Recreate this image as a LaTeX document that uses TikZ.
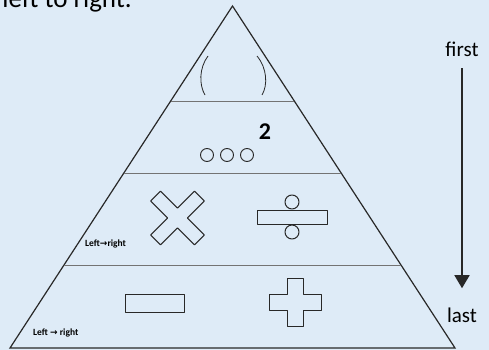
\documentclass[tikz,border=0pt]{standalone}
\usepackage{fontspec}
\setmainfont{Carlito}
\newfontfamily\symfont{DejaVu Sans}
\usetikzlibrary{arrows.meta}
\definecolor{paper}{RGB}{222,235,247}
\definecolor{ink}{RGB}{40,40,40}
\definecolor{rule}{RGB}{115,115,115}

\begin{document}
\begin{tikzpicture}[x=1pt, y=-1pt,
  tier/.style={draw=rule, line width=0.9pt},
  glyph/.style={draw=ink, line width=1pt, line join=round},
  caption/.style={font=\fontsize{21}{24}\selectfont, inner sep=0pt, anchor=base},
  small/.style={font=\fontsize{9.5}{11}\selectfont\bfseries, inner sep=0pt, anchor=base west},
  >=Triangle
]
  \fill[paper] (0,0) rectangle (489,350);
  \useasboundingbox (0,0) rectangle (489,350);
  \clip (0,0) rectangle (489,350);

  % text cut off at the top
  \node[caption, font=\fontsize{27}{30}\selectfont, anchor=base east] (intro) at (132,7.5) {left to right.};

  % pyramid and its tiers
  \draw[ink, line width=1.2pt, line join=miter] (232.5,6) -- (455,348) -- (10,348) -- cycle;
  \draw[tier] (171,101) -- (294,101);
  \draw[tier] (124,173) -- (341,173);
  \draw[tier] (64,265) -- (401,265);

  % brackets
  \draw[glyph, line width=0.8pt] (208,56) .. controls (199,68) and (199,85) .. (205,95);
  \draw[glyph, line width=0.8pt] (257,56) .. controls (267,68) and (268,85) .. (262,95);

  % powers
  \node[font=\fontsize{24}{26}\selectfont\bfseries, inner sep=0pt] (power) at (265,132) {2};
  \foreach \x in {207,227,247}
    \draw[glyph, line width=0.9pt] (\x,155) circle (6.5);

  % multiply and divide
  \draw[glyph, rotate around={45:(177.5,218)}]
    (177.5,218) ++(-7,-31) -- ++(14,0) -- ++(0,24) -- ++(24,0) -- ++(0,14) -- ++(-24,0)
    -- ++(0,24) -- ++(-14,0) -- ++(0,-24) -- ++(-24,0) -- ++(0,-14) -- ++(24,0) -- cycle;
  \draw[glyph] (257,210) rectangle (327,224);
  \draw[glyph] (292,202) circle (7);
  \draw[glyph] (292,232) circle (7);
  \node[small] (order1) at (85,246) {Left{\symfont\fontsize{9}{10}\selectfont →}right};

  % add and subtract
  \draw[glyph] (125,294) rectangle (184,312);
  \draw[glyph] (287,278) -- (303,278) -- (303,294) -- (321,294) -- (321,310) -- (303,310)
    -- (303,326) -- (287,326) -- (287,310) -- (269,310) -- (269,294) -- (287,294) -- cycle;
  \node[small] (order2) at (33,335) {Left {\symfont\fontsize{9}{10}\selectfont →} right};

  % order arrow
  \node[caption] (first) at (462,57) {first};
  \node[caption] (last) at (462,322) {last};
  \draw[->, ink, line width=1.6pt, shorten <=11pt, shorten >=19pt,
    arrows={->[length=13pt, width=15pt]}] (first) -- (last);
\end{tikzpicture}
\end{document}
